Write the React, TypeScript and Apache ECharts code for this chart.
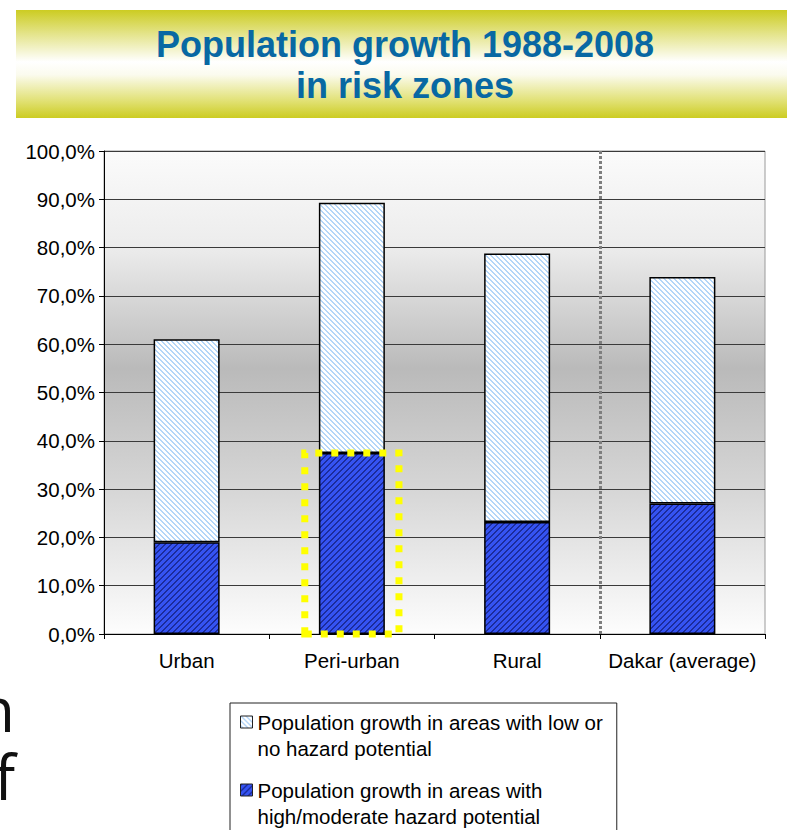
import React, { useEffect, useRef } from "react";
import * as echarts from "echarts";

const categories = ["Urban", "Peri-urban", "Rural", "Dakar (average)"];
const highHazard = [19.0, 37.5, 23.2, 27.0];
const lowHazard = [42.0, 51.8, 55.6, 46.9];
const seriesNames = [
  "Population growth in areas with low or no hazard potential",
  "Population growth in areas with high/moderate hazard potential",
];
const legendLines = [
  ["Population growth in areas with low or", "no hazard potential"],
  ["Population growth in areas with", "high/moderate hazard potential"],
];
const titleLines = ["Population growth 1988-2008", "in risk zones"];
const yMin = 0;
const yMax = 100;
const yStep = 10;
// divider between Rural and Dakar on a 0..4 category-position scale
const dividerAt = 3;
// highlighted peri-urban high-hazard bar (category-position scale)
const highlightSpan = [1.215, 1.785];
const sideText = ["n", "f"];

function stripePattern(bg: string, fg: string, size: number, width: number, dir: number) {
  const c = document.createElement("canvas");
  c.width = size;
  c.height = size;
  const ctx = c.getContext("2d")!;
  ctx.fillStyle = bg;
  ctx.fillRect(0, 0, size, size);
  ctx.fillStyle = fg;
  for (let y = 0; y < size; y++) {
    for (let x = 0; x < size; x++) {
      const k = dir > 0 ? (x + y) % size : (((x - y) % size) + size) % size;
      if (k < width) ctx.fillRect(x, y, 1, 1);
    }
  }
  return { image: c, repeat: "repeat" } as any;
}

export default function App() {
  const ref = useRef<HTMLDivElement>(null);
  useEffect(() => {
    if (!ref.current) return;
    const chart = echarts.init(ref.current, undefined, { renderer: "svg" });
    const lightFill = stripePattern("#ffffff", "#b4d6f8", 5, 2, -1);
    const blueFill = stripePattern("#3553f2", "#1c2c9c", 6, 2, 1);
    const font = "'Liberation Sans', Arial, sans-serif";
    const option: any = {
      animation: false,
      title: {
        text: titleLines.join("\n"),
        left: 400,
        top: 19,
        textAlign: "center",
        z: 10,
        textStyle: {
          fontFamily: font,
          fontSize: 36,
          fontWeight: "bold",
          lineHeight: 41,
          color: "#0868a3",
        },
      },
      graphic: [
        {
          type: "rect",
          z: -1,
          shape: { x: 16, y: 10, width: 780, height: 108 },
          style: {
            fill: new echarts.graphic.LinearGradient(0, 0, 0, 1, [
              { offset: 0, color: "#cccc22" },
              { offset: 0.22, color: "#e4e48a" },
              { offset: 0.48, color: "#ffffff" },
              { offset: 0.6, color: "#fbfbee" },
              { offset: 0.85, color: "#e0e070" },
              { offset: 1, color: "#cccc22" },
            ]),
          },
        },
        {
          type: "text",
          x: 15,
          y: 742,
          style: {
            text: sideText.join("\n"),
            fontFamily: "'Open Sans', sans-serif",
            fontSize: 62,
            lineHeight: 68,
            fill: "#111",
            textAlign: "right",
            textVerticalAlign: "middle",
          },
        },
      ],
      legend: {
        orient: "vertical",
        left: 230,
        top: 703,
        height: 200,
        padding: [6, 14, 30, 10],
        itemGap: 16,
        itemWidth: 12,
        itemHeight: 38,
        icon: "path://M0,0L12,0L12,12L0,12Z M0,38L0.01,38",
        borderColor: "#222",
        borderWidth: 1,
        backgroundColor: "#ffffff",
        selectedMode: false,
        data: [seriesNames[0], seriesNames[1]],
        itemStyle: { borderWidth: 1, borderColor: "#222" },
        formatter: (name: string) => legendLines[seriesNames.indexOf(name)].join("\n"),
        textStyle: { fontFamily: font, fontSize: 20.5, lineHeight: 26, color: "#000" },
      },
      grid: {
        left: 104,
        right: 22,
        top: 151,
        bottom: 196,
        containLabel: false,
        outerBoundsMode: "none",
        show: true,
        borderColor: "#9a9a9a",
        borderWidth: 1,
        backgroundColor: new echarts.graphic.LinearGradient(0, 0, 0, 1, [
          { offset: 0, color: "#fbfbfb" },
          { offset: 0.2, color: "#ececec" },
          { offset: 0.45, color: "#bababa" },
          { offset: 0.7, color: "#d6d6d6" },
          { offset: 1, color: "#fdfdfd" },
        ]),
      },
      xAxis: [
        {
          type: "category",
          data: categories,
          axisLine: { lineStyle: { color: "#000", width: 1 } },
          axisTick: { show: true, length: 5, lineStyle: { color: "#000" } },
          axisLabel: { fontFamily: font, fontSize: 20.5, color: "#000", margin: 16, interval: 0 },
          splitLine: { show: false },
        },
        {
          type: "value",
          min: 0,
          max: categories.length,
          show: false,
          gridIndex: 0,
          position: "bottom",
          splitLine: { show: false },
        },
      ],
      yAxis: {
        type: "value",
        min: yMin,
        max: yMax,
        interval: yStep,
        axisLine: { show: true, lineStyle: { color: "#000", width: 1 } },
        axisTick: { show: true, length: 5, lineStyle: { color: "#000" } },
        axisLabel: {
          fontFamily: font,
          fontSize: 20.5,
          color: "#000",
          margin: 9,
          formatter: (v: number) => v.toFixed(1).replace(".", ",") + "%",
        },
        splitLine: { show: true, lineStyle: { color: "#3a3a3a", width: 1 } },
      },
      series: [
        {
          name: seriesNames[1],
          type: "bar",
          stack: "total",
          barWidth: 66,
          data: highHazard,
          itemStyle: { color: blueFill, borderColor: "#000", borderWidth: 1.5 },
          emphasis: { disabled: true },
        },
        {
          name: seriesNames[0],
          type: "bar",
          stack: "total",
          barWidth: 66,
          data: lowHazard,
          itemStyle: { color: lightFill, borderColor: "#000", borderWidth: 1.5 },
          emphasis: { disabled: true },
        },
        {
          name: "annotations",
          type: "line",
          xAxisIndex: 1,
          yAxisIndex: 0,
          data: [],
          z: 10,
          silent: true,
          markLine: {
            silent: true,
            symbol: ["none", "none"],
            label: { show: false },
            lineStyle: { color: "#7e7e7e", width: 3, type: [3, 2] },
            data: [{ xAxis: dividerAt }],
          },
          markArea: {
            silent: true,
            z: 10,
            itemStyle: {
              color: "rgba(0,0,0,0)",
              borderColor: "#ffff00",
              borderWidth: 7,
              borderType: [7, 9],
            },
            data: [
              [
                { xAxis: highlightSpan[0], yAxis: 0 },
                { xAxis: highlightSpan[1], yAxis: highHazard[1] },
              ],
            ],
          },
        },
      ],
    };
    chart.setOption(option);
    return () => chart.dispose();
  }, []);
  return (
    <div
      ref={ref}
      style={{ position: "fixed", left: 0, top: 0, width: 787, height: 830, background: "#fff" }}
    />
  );
}
